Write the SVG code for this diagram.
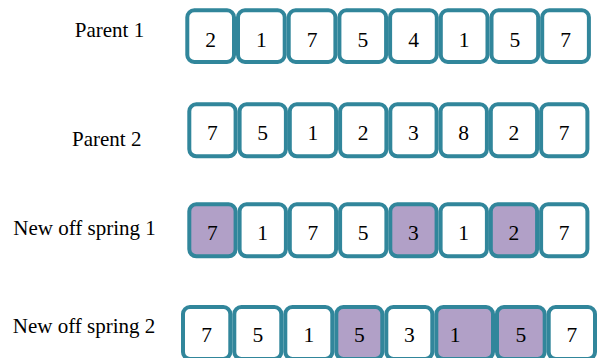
<svg xmlns="http://www.w3.org/2000/svg" width="599" height="358" viewBox="0 0 599 358">
<style>
.b{fill:#ffffff;stroke:#31869b;stroke-width:4}
.p{fill:#b1a0c7;stroke:#31869b;stroke-width:4}
text{font-family:"Liberation Serif","Times New Roman",serif;font-size:21.5px;fill:#000;text-anchor:middle}
.l{font-size:21px}
</style>
<rect width="599" height="358" fill="#ffffff"/>
<g id="labels">
<text class="l" x="109.5" y="36.7">Parent 1</text>
<text class="l" x="106.7" y="146">Parent 2</text>
<text class="l" x="84.5" y="235">New off spring 1</text>
<text class="l" x="84" y="333.3">New off spring 2</text>
</g>
<g id="parent1">
<g id="p1-1"><rect class="b" x="187.3" y="10.3" width="46.7" height="51.7" rx="7"/><text x="210.7" y="46.7">2</text></g>
<g id="p1-2"><rect class="b" x="238" y="10.3" width="46.7" height="51.7" rx="7"/><text x="261.4" y="46.7">1</text></g>
<g id="p1-3"><rect class="b" x="288.7" y="10.3" width="46.7" height="51.7" rx="7"/><text x="312.1" y="46.7">7</text></g>
<g id="p1-4"><rect class="b" x="339.4" y="10.3" width="46.7" height="51.7" rx="7"/><text x="362.8" y="46.7">5</text></g>
<g id="p1-5"><rect class="b" x="390.1" y="10.3" width="46.7" height="51.7" rx="7"/><text x="413.5" y="46.7">4</text></g>
<g id="p1-6"><rect class="b" x="440.8" y="10.3" width="46.7" height="51.7" rx="7"/><text x="464.2" y="46.7">1</text></g>
<g id="p1-7"><rect class="b" x="491.5" y="10.3" width="46.7" height="51.7" rx="7"/><text x="514.9" y="46.7">5</text></g>
<g id="p1-8"><rect class="b" x="542.2" y="10.3" width="46.7" height="51.7" rx="7"/><text x="565.6" y="46.7">7</text></g>
</g>
<g id="parent2">
<g id="p2-1"><rect class="b" x="189.3" y="104.3" width="46.3" height="52" rx="7"/><text x="212.4" y="140">7</text></g>
<g id="p2-2"><rect class="b" x="239.6" y="104.3" width="46.3" height="52" rx="7"/><text x="262.7" y="140">5</text></g>
<g id="p2-3"><rect class="b" x="289.8" y="104.3" width="46.3" height="52" rx="7"/><text x="312.9" y="140">1</text></g>
<g id="p2-4"><rect class="b" x="340.1" y="104.3" width="46.3" height="52" rx="7"/><text x="363.2" y="140">2</text></g>
<g id="p2-5"><rect class="b" x="390.3" y="104.3" width="46.3" height="52" rx="7"/><text x="413.4" y="140">3</text></g>
<g id="p2-6"><rect class="b" x="440.6" y="104.3" width="46.3" height="52" rx="7"/><text x="463.7" y="140">8</text></g>
<g id="p2-7"><rect class="b" x="490.8" y="104.3" width="46.3" height="52" rx="7"/><text x="513.9" y="140">2</text></g>
<g id="p2-8"><rect class="b" x="541.1" y="104.3" width="46.3" height="52" rx="7"/><text x="564.2" y="140">7</text></g>
</g>
<g id="offspring1">
<g id="o1-1"><rect class="p" x="189.3" y="204.3" width="46.3" height="52" rx="7"/><text x="212.4" y="240">7</text></g>
<g id="o1-2"><rect class="b" x="239.6" y="204.3" width="46.3" height="52" rx="7"/><text x="262.7" y="240">1</text></g>
<g id="o1-3"><rect class="b" x="289.8" y="204.3" width="46.3" height="52" rx="7"/><text x="312.9" y="240">7</text></g>
<g id="o1-4"><rect class="b" x="340.1" y="204.3" width="46.3" height="52" rx="7"/><text x="363.2" y="240">5</text></g>
<g id="o1-5"><rect class="p" x="390.3" y="204.3" width="46.3" height="52" rx="7"/><text x="413.4" y="240">3</text></g>
<g id="o1-6"><rect class="b" x="440.6" y="204.3" width="46.3" height="52" rx="7"/><text x="463.7" y="240">1</text></g>
<g id="o1-7"><rect class="p" x="490.8" y="204.3" width="46.3" height="52" rx="7"/><text x="513.9" y="240">2</text></g>
<g id="o1-8"><rect class="b" x="541.1" y="204.3" width="46.3" height="52" rx="7"/><text x="564.2" y="240">7</text></g>
</g>
<g id="offspring2">
<g id="o2-1"><rect class="b" x="183" y="307" width="47.3" height="52" rx="7"/><text x="206.6" y="341.7">7</text></g>
<g id="o2-2"><rect class="b" x="234.3" y="307" width="47" height="52" rx="7"/><text x="257.8" y="341.7">5</text></g>
<g id="o2-3"><rect class="b" x="285.3" y="307" width="47" height="52" rx="7"/><text x="308.8" y="341.7">1</text></g>
<g id="o2-4"><rect class="p" x="336.3" y="307" width="46" height="52" rx="7"/><text x="359.3" y="341.7">5</text></g>
<g id="o2-5"><rect class="b" x="386.3" y="307" width="46" height="52" rx="7"/><text x="409.3" y="341.7">3</text></g>
<g id="o2-6"><rect class="p" x="436.3" y="307" width="56.7" height="52" rx="7"/><text x="455" y="341.7">1</text></g>
<g id="o2-7"><rect class="p" x="497" y="307" width="47.7" height="52" rx="7"/><text x="520.8" y="341.7">5</text></g>
<g id="o2-8"><rect class="b" x="548.7" y="307" width="46.3" height="52" rx="7"/><text x="571.8" y="341.7">7</text></g>
</g>
</svg>
